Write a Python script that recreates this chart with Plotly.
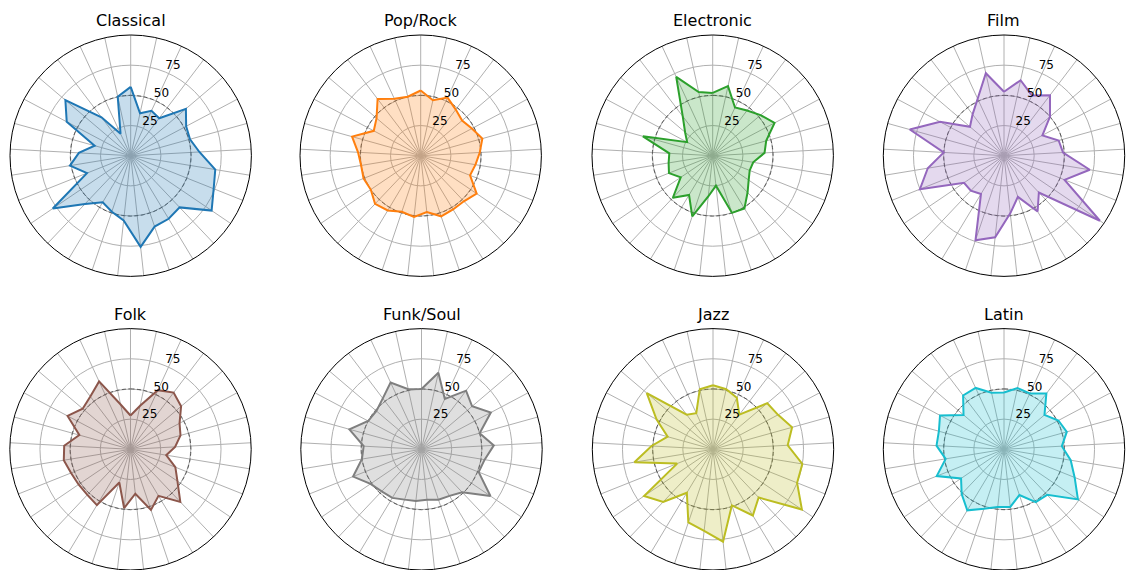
import plotly.graph_objects as go

genres = ['Classical', 'Pop/Rock', 'Electronic', 'Film',
          'Folk', 'Funk/Soul', 'Jazz', 'Latin']
colors = ['#1f77b4', '#ff7f0e', '#2ca02c', '#9467bd',
          '#8c564b', '#7f7f7f', '#bcbd22', '#17becf']

# 29 features per genre, clockwise from the top
classical = [57, 36, 41, 39, 60, 52, 51, 57, 71, 74, 81, 59, 61, 62, 76,
             54, 49, 45, 55, 78, 39, 51, 43, 31, 60, 71, 40, 20, 50]
pop_rock = [54, 47, 53, 48, 45, 48, 53, 49, 46, 44, 56, 52, 52, 53, 47,
            51, 49, 53, 55, 50, 51, 50, 52, 59, 44, 48, 59, 52, 50]
electronic = [52, 59, 44, 47, 52, 58, 46, 43, 34, 33, 36, 42, 51, 50, 25,
              34, 53, 38, 48, 32, 39, 37, 36, 60, 24, 30, 41, 72, 54]
film = [53, 64, 55, 63, 50, 36, 47, 49, 72, 54, 96, 42, 54, 36, 48,
        68, 74, 37, 40, 40, 75, 64, 50, 81, 60, 37, 43, 52, 70]
folk = [28, 37, 54, 59, 55, 46, 43, 37, 30, 40, 47, 60, 45, 53, 37,
        49, 29, 54, 52, 52, 53, 56, 55, 44, 59, 52, 55, 62, 38]
funk_soul = [50, 65, 46, 61, 55, 65, 50, 60, 53, 51, 69, 49, 45, 44, 42,
             43, 44, 47, 48, 51, 61, 50, 48, 62, 50, 49, 53, 61, 51]
jazz = [53, 51, 47, 36, 59, 61, 68, 62, 75, 75, 89, 55, 64, 49, 77,
        68, 64, 42, 60, 69, 32, 66, 51, 39, 53, 72, 36, 33, 51]
latin = [47, 52, 51, 58, 44, 51, 54, 48, 56, 63, 74, 52, 51, 40, 48,
         48, 52, 59, 51, 43, 60, 49, 56, 56, 60, 44, 56, 56, 48]

values = [classical, pop_rock, electronic, film, folk, funk_soul, jazz, latin]
radial_ticks = [25, 50, 75]
radial_labels = ['25', '50', '75']
label_angle = 22.5
ref_level = 50

n_features = len(classical)
angles = [i * 360 / n_features for i in range(n_features)]
circle = [i * 2 for i in range(181)]

W, H = 1126, 570
R = 120.7
centers_x = [130.7, 420.7, 712.7, 1004, 130.5, 421.5, 713, 1004]
centers_y = [155.7, 155.7, 155.7, 155.7, 449.3, 449.3, 449.3, 449.3]


def hex_rgba(h, a):
    h = h.lstrip('#')
    return f'rgba({int(h[0:2], 16)},{int(h[2:4], 16)},{int(h[4:6], 16)},{a})'


def clamp(v):
    return min(1.0, max(0.0, round(v, 5)))


fig = go.Figure()
layout = {}
annotations = []

for i, (genre, vals, color) in enumerate(zip(genres, values, colors)):
    name = 'polar' if i == 0 else f'polar{i + 1}'

    # dashed reference ring
    fig.add_trace(go.Scatterpolar(
        r=[ref_level] * len(circle), theta=circle, mode='lines',
        line=dict(color='#555555', width=1, dash='4px,2.5px'),
        hoverinfo='skip', showlegend=False, subplot=name))

    fig.add_trace(go.Scatterpolar(
        r=vals + vals[:1], theta=angles + angles[:1], mode='lines',
        fill='toself', fillcolor=hex_rgba(color, 0.25),
        line=dict(color=color, width=2),
        name=genre, showlegend=False, subplot=name))

    # radial tick labels, matplotlib style
    fig.add_trace(go.Scatterpolar(
        r=radial_ticks, theta=[label_angle] * len(radial_ticks),
        mode='text', text=radial_labels, textposition='top right',
        textfont=dict(family='DejaVu Sans', size=12, color='black'),
        hoverinfo='skip', showlegend=False, subplot=name))

    cx, cy = centers_x[i], centers_y[i]
    layout[name] = dict(
        domain=dict(x=[clamp((cx - R) / W), clamp((cx + R) / W)],
                    y=[clamp((H - cy - R) / H), clamp((H - cy + R) / H)]),
        bgcolor='white',
        radialaxis=dict(range=[0, 100], tickvals=radial_ticks,
                        showline=False, ticks='', showticklabels=False,
                        gridcolor='#b0b0b0', gridwidth=0.8),
        angularaxis=dict(rotation=90, direction='clockwise',
                         tickvals=angles, showticklabels=False, ticks='',
                         showline=True, linecolor='black', linewidth=1,
                         gridcolor='#b0b0b0', gridwidth=0.8))

    annotations.append(dict(
        text=genre, x=cx / W, y=(H - cy + R + 14.5) / H,
        xref='paper', yref='paper', xanchor='center', yanchor='middle',
        showarrow=False, font=dict(family='DejaVu Sans', size=16, color='black')))

fig.update_layout(
    **layout,
    annotations=annotations,
    width=W, height=H,
    margin=dict(l=0, r=0, t=0, b=0),
    paper_bgcolor='white',
    showlegend=False)

# drop the browser's default 8px body margin so the figure fills the window
fig.write_html("out.html", config={'displayModeBar': False},
               post_script="document.body.style.margin = '0';")
